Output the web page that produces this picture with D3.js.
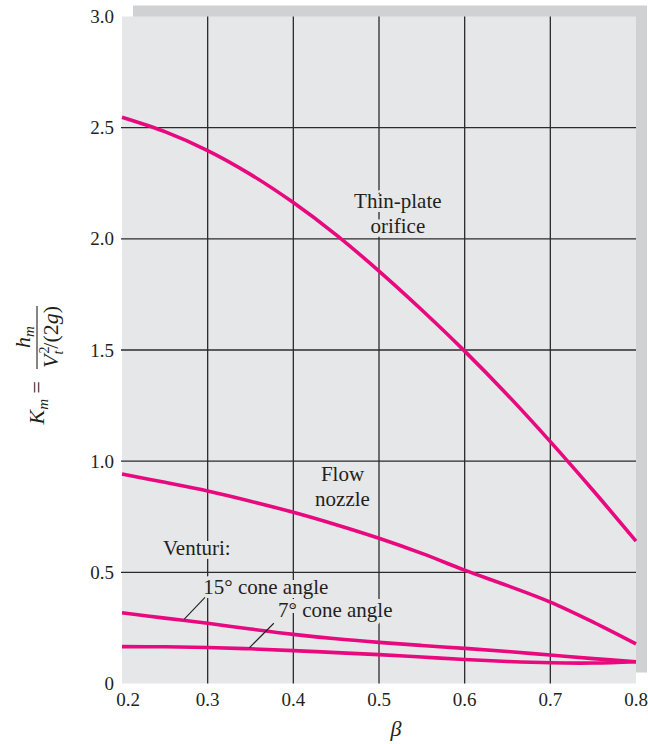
<!DOCTYPE html>
<html>
<head>
<meta charset="utf-8">
<script src="https://cdn.jsdelivr.net/npm/d3@7"></script>
<style>
  html, body { margin: 0; padding: 0; background: #ffffff; }
  svg { display: block; }
  text { font-family: "Liberation Serif", "Times New Roman", serif; fill: #231f20; }
</style>
</head>
<body>
<svg id="chart" width="648" height="744"></svg>
<script>
// ---- data ----
const betaValues = [0.2, 0.25, 0.3, 0.35, 0.4, 0.45, 0.5, 0.55, 0.6, 0.65, 0.7, 0.75, 0.8];
const thinPlateOrifice = [2.547, 2.482, 2.397, 2.29, 2.163, 2.018, 1.855, 1.68, 1.495, 1.298, 1.088, 0.868, 0.64];
const flowNozzle = [0.942, 0.905, 0.866, 0.820, 0.770, 0.714, 0.653, 0.585, 0.510, 0.440, 0.366, 0.276, 0.178];
const venturi15 = [0.318, 0.294, 0.271, 0.245, 0.221, 0.201, 0.185, 0.171, 0.158, 0.144, 0.128, 0.112, 0.098];
const venturi7 = [0.166, 0.165, 0.162, 0.156, 0.148, 0.139, 0.130, 0.119, 0.108, 0.099, 0.093, 0.092, 0.098];
const xTicks = [0.2, 0.3, 0.4, 0.5, 0.6, 0.7, 0.8];
const xTickLabels = ["0.2", "0.3", "0.4", "0.5", "0.6", "0.7", "0.8"];
const yTicks = [0, 0.5, 1.0, 1.5, 2.0, 2.5, 3.0];
const yTickLabels = ["0", "0.5", "1.0", "1.5", "2.0", "2.5", "3.0"];
const xGrid = [0.3, 0.4, 0.5, 0.6, 0.7];
const yGrid = [0.5, 1.0, 1.5, 2.0, 2.5];
// annotation labels (data coordinates of anchor)
const curveLabels = [
  { lines: ["Thin-plate", "orifice"], beta: 0.522, k: 2.139, anchor: "middle" },
  { lines: ["Flow", "nozzle"], beta: 0.4574, k: 0.913, anchor: "middle" },
  { lines: ["Venturi:"], beta: 0.2479, k: 0.578, anchor: "start" },
  { lines: ["15° cone angle"], beta: 0.2949, k: 0.401, anchor: "start" },
  { lines: ["7° cone angle"], beta: 0.3821, k: 0.301, anchor: "start" }
];
const leaders = [
  { b1: 0.2969, k1: 0.387, b2: 0.2727, k2: 0.290 },
  { b1: 0.3772, k1: 0.271, b2: 0.3488, k2: 0.161 }
];

// ---- layout ----
const svg = d3.select("#chart");
const bg = "#e6e7e9";
const shadow = "#d0d1d3";
const curveColor = "#e8097f";
const gridColor = "#2b2b2b";

const x = d3.scaleLinear().domain([0.2, 0.8]).range([122, 636]);
const y = d3.scaleLinear().domain([0, 3]).range([683.5, 16.5]);

// shadow and background
svg.append("rect")
  .attr("x", x(0.2) + 11).attr("y", y(3) - 11)
  .attr("width", x(0.8) - x(0.2)).attr("height", y(0) - y(3))
  .attr("fill", shadow);
svg.append("rect")
  .attr("x", x(0.2)).attr("y", y(3))
  .attr("width", x(0.8) - x(0.2)).attr("height", y(0) - y(3))
  .attr("fill", bg);

// grid
svg.append("g").selectAll("line").data(xGrid).join("line")
  .attr("x1", d => x(d)).attr("x2", d => x(d))
  .attr("y1", y(3)).attr("y2", y(0))
  .attr("stroke", gridColor).attr("stroke-width", 1.3);
svg.append("g").selectAll("line").data(yGrid).join("line")
  .attr("x1", x(0.2) - 1).attr("x2", x(0.8))
  .attr("y1", d => y(d)).attr("y2", d => y(d))
  .attr("stroke", gridColor).attr("stroke-width", 1.3);

// tick labels
svg.append("g").selectAll("text").data(xTicks).join("text")
  .attr("x", (d, i) => x(d) + (i === 0 ? 6 : 0))
  .attr("y", 706)
  .attr("text-anchor", "middle")
  .attr("font-size", 19)
  .text((d, i) => xTickLabels[i]);
svg.append("g").selectAll("text").data(yTicks).join("text")
  .attr("x", 114)
  .attr("y", d => y(d) + 6.5)
  .attr("text-anchor", "end")
  .attr("font-size", 19)
  .text((d, i) => yTickLabels[i]);

// annotation labels with halo
const lab = svg.append("g");
curveLabels.forEach(l => {
  const t = lab.append("text")
    .attr("x", x(l.beta)).attr("y", y(l.k))
    .attr("text-anchor", l.anchor)
    .attr("font-size", 21)
    .attr("stroke", bg).attr("stroke-width", 8)
    .attr("stroke-linejoin", "round")
    .attr("paint-order", "stroke");
  l.lines.forEach((s, i) => {
    t.append("tspan").attr("x", x(l.beta)).attr("dy", i === 0 ? 0 : 25).text(s);
  });
});

// curves
const line = d3.line()
  .x((d, i) => x(betaValues[i]))
  .y(d => y(d))
  .curve(d3.curveCatmullRom.alpha(0.5));
const series = [thinPlateOrifice, flowNozzle, venturi15, venturi7];
svg.append("g").selectAll("path").data(series).join("path")
  .attr("d", d => line(d))
  .attr("fill", "none")
  .attr("stroke", curveColor)
  .attr("stroke-width", 3.6)
  .attr("stroke-linecap", "butt");

// leader lines
svg.append("g").selectAll("line").data(leaders).join("line")
  .attr("x1", d => x(d.b1)).attr("y1", d => y(d.k1))
  .attr("x2", d => x(d.b2)).attr("y2", d => y(d.k2))
  .attr("stroke", "#231f20").attr("stroke-width", 1.1);

// x-axis title
svg.append("text")
  .attr("x", 396).attr("y", 736)
  .attr("text-anchor", "middle")
  .attr("font-size", 22)
  .attr("font-style", "italic")
  .text("β");

// y-axis title: K_m = h_m / (V_t^2/(2g))
const yl = svg.append("g").attr("transform", "translate(37,368) rotate(-90)");
yl.append("line")
  .attr("x1", -1).attr("x2", 62).attr("y1", 0).attr("y2", 0)
  .attr("stroke", "#231f20").attr("stroke-width", 1.1);
const lhs = yl.append("text")
  .attr("x", -13).attr("y", 6.5)
  .attr("text-anchor", "end")
  .attr("font-size", 22);
lhs.append("tspan").attr("font-style", "italic").text("K");
lhs.append("tspan").attr("font-style", "italic").attr("font-size", 15).attr("dy", 4).text("m");
lhs.append("tspan").attr("dy", -4).text(" =");
const num = yl.append("text")
  .attr("x", 31).attr("y", -7)
  .attr("text-anchor", "middle")
  .attr("font-size", 22);
num.append("tspan").attr("font-style", "italic").text("h");
num.append("tspan").attr("font-style", "italic").attr("font-size", 15).attr("dy", 4).text("m");
const den = yl.append("text")
  .attr("x", 31).attr("y", 21)
  .attr("text-anchor", "middle")
  .attr("font-size", 22);
den.append("tspan").attr("font-style", "italic").text("V");
den.append("tspan").attr("font-size", 14).attr("dx", 1).attr("dy", -9).text("2");
den.append("tspan").attr("font-style", "italic").attr("font-size", 14).attr("dx", -8).attr("dy", 14).text("t");
den.append("tspan").attr("dx", 2).attr("dy", -5).text("/(2");
den.append("tspan").attr("font-style", "italic").text("g");
den.append("tspan").text(")");
</script>
</body>
</html>
